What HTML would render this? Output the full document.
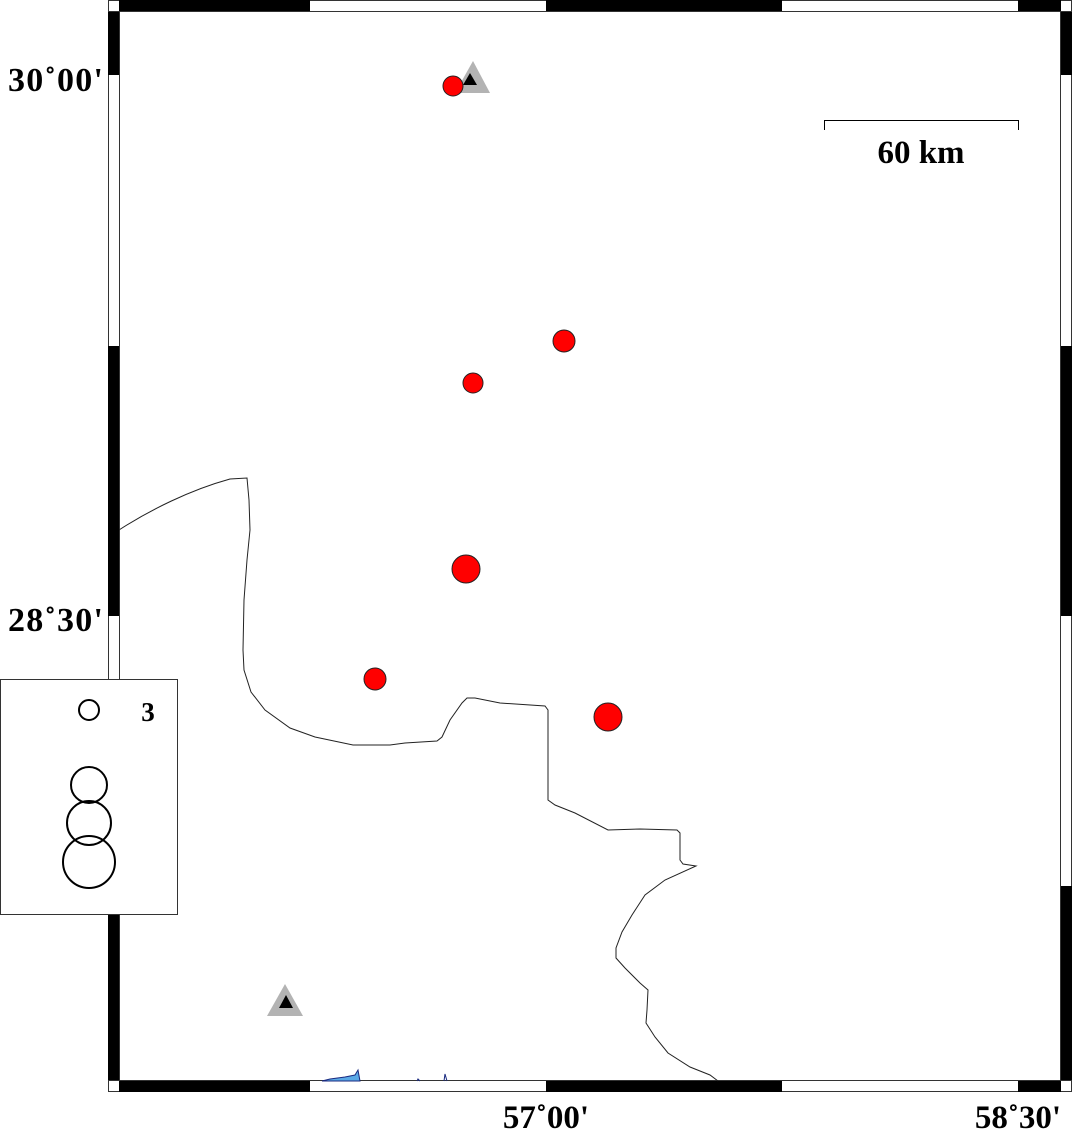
<!DOCTYPE html>
<html><head><meta charset="utf-8"><style>
html,body{margin:0;padding:0;background:#fff;}
svg{display:block;}
text{font-family:"Liberation Serif",serif;font-weight:bold;}
</style></head><body>
<svg width="1075" height="1131" viewBox="0 0 1075 1131" xmlns="http://www.w3.org/2000/svg">
<rect x="0" y="0" width="1075" height="1131" fill="#fff"/>
<g stroke="#333" stroke-width="1">
<rect x="108.5" y="0.5" width="963" height="1091" fill="#fff"/>
</g>
<g fill="#000">
<rect x="119" y="0" width="191" height="11"/>
<rect x="546" y="0" width="236" height="11"/>
<rect x="1018" y="0" width="43" height="11"/>
<rect x="119" y="1081" width="191" height="11"/>
<rect x="546" y="1081" width="236" height="11"/>
<rect x="1018" y="1081" width="43" height="11"/>
<rect x="108" y="11" width="11" height="64"/>
<rect x="108" y="346" width="11" height="270"/>
<rect x="108" y="886" width="11" height="195"/>
<rect x="1061" y="11" width="11" height="64"/>
<rect x="1061" y="346" width="11" height="270"/>
<rect x="1061" y="886" width="11" height="195"/>
</g>
<g fill="none" stroke="#333" stroke-width="1">
<rect x="119.5" y="11.5" width="941" height="1069"/>
<line x1="108" y1="11.5" x2="1072" y2="11.5"/>
<line x1="108" y1="1080.5" x2="1072" y2="1080.5"/>
</g>
<path d="M119,530 C150,510 190,490 230,479 L247,478 L249,500 L250,530 L247,560 L244,600 L243,650 L244,670 L251,692 L265,710 L290,728 L315,737 L353,745 L390,745 L405,743 L437,741 L442,737 L450,720 L462,703 L467,698 L475,698 L495,702 L500,703 L545,706 L548,710 L548,800 L555,805 L575,813 L608,830 L640,829 L677,830 L680,833 L680,860 L683,864 L696,866 L665,880 L645,895 L632,915 L622,932 L616,948 L616,958 L625,968 L640,983 L648,990 L647,1010 L646,1023 L655,1037 L668,1053 L690,1067 L710,1075 L718,1081" fill="none" stroke="#222" stroke-width="1"/>
<path d="M322,1081 L330,1079 L345,1077 L355,1075 L358,1070 L360,1081 Z" fill="#5aa9e6" stroke="#1a2a80" stroke-width="1"/>
<path d="M417,1081 L418,1079 L420,1081 M444,1081 L445,1074 L447,1081" fill="none" stroke="#1a2a80" stroke-width="1"/>
<polygon points="473,61 490,93 455,93" fill="#b3b3b3"/>
<polygon points="470,73 477,85 463,85" fill="#000"/>
<polygon points="285,984 303,1016 267,1016" fill="#b3b3b3"/>
<polygon points="286,995 293,1008 279,1008" fill="#000"/>
<g fill="#f00" stroke="#222" stroke-width="1">
<circle cx="453" cy="86" r="10"/>
<circle cx="564" cy="341" r="11"/>
<circle cx="473" cy="383" r="10"/>
<circle cx="466" cy="569" r="14"/>
<circle cx="375" cy="679" r="11"/>
<circle cx="608" cy="717" r="14"/>
</g>
<path d="M824.5,130 L824.5,120.5 L1018.5,120.5 L1018.5,130" fill="none" stroke="#000" stroke-width="1"/>
<text x="921" y="163" font-size="33" text-anchor="middle">60 km</text>
<text x="8" y="91" font-size="34" textLength="95" lengthAdjust="spacing">30˚00'</text>
<text x="8" y="631" font-size="34" textLength="95" lengthAdjust="spacing">28˚30'</text>
<text x="546" y="1128" font-size="33" text-anchor="middle">57˚00'</text>
<text x="1018" y="1128" font-size="33" text-anchor="middle">58˚30'</text>
<rect x="0.5" y="679.5" width="177" height="235" fill="#fff" stroke="#333" stroke-width="1"/>
<g fill="none" stroke="#000" stroke-width="2">
<circle cx="89" cy="710" r="10"/>
<circle cx="89" cy="785" r="18"/>
<circle cx="89" cy="823" r="22"/>
<circle cx="89" cy="862" r="26"/>
</g>
<text x="148" y="721" font-size="27" text-anchor="middle">3</text>
</svg>
</body></html>
